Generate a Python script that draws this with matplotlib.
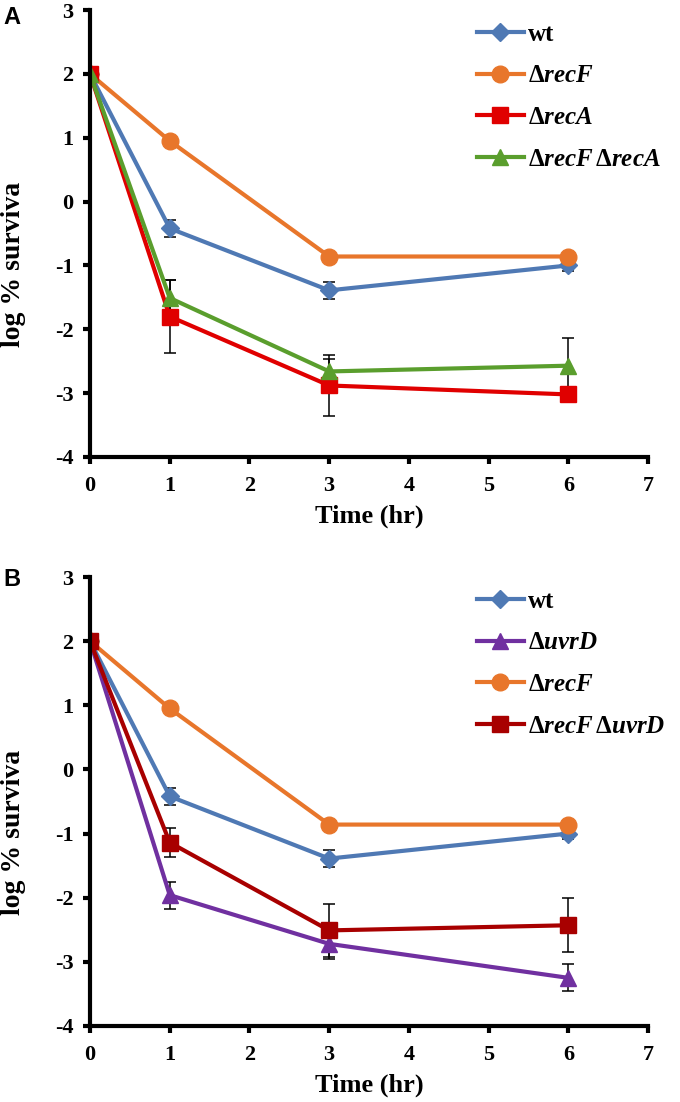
import matplotlib
matplotlib.use("Agg")
import matplotlib.pyplot as plt

plt.rcParams['font.family'] = ['Liberation Serif', 'DejaVu Serif']
plt.rcParams['font.weight'] = 'bold'
plt.rcParams['axes.unicode_minus'] = False
plt.rcParams['mathtext.fontset'] = 'custom'
plt.rcParams['mathtext.rm'] = 'Liberation Serif:bold'
plt.rcParams['mathtext.it'] = 'Liberation Serif:italic:bold'
plt.rcParams['mathtext.bf'] = 'Liberation Serif:bold'

time = [0, 1, 3, 6]

# panel A
wt = [2.0, -0.42, -1.39, -1.0]
wt_err = [0.0, 0.13, 0.13, 0.08]
recF = [2.0, 0.95, -0.86, -0.86]
recF_err = [0.0, 0.05, 0.05, 0.05]
recA = [2.0, -1.80, -2.88, -3.02]
recA_err = [0.0, 0.57, 0.48, 0.10]
recFrecA = [2.0, -1.51, -2.66, -2.57]
recFrecA_err = [0.0, 0.28, 0.20, 0.44]

# panel B
uvrD = [2.0, -1.96, -2.72, -3.25]
uvrD_err = [0.0, 0.21, 0.23, 0.21]
recFuvrD = [2.0, -1.14, -2.51, -2.43]
recFuvrD_err = [0.0, 0.23, 0.41, 0.42]

labels_A = ['wt', r'$\Delta\mathit{recF}$', r'$\Delta\mathit{recA}$',
            r'$\Delta\mathit{recF}\,\Delta\mathit{recA}$']
labels_B = ['wt', r'$\Delta\mathit{uvrD}$', r'$\Delta\mathit{recF}$',
            r'$\Delta\mathit{recF}\,\Delta\mathit{uvrD}$']

blue = '#4F79B4'
orange = '#E8762B'
red = '#E00000'
green = '#5A9E2D'
purple = '#7030A0'
darkred = '#A80000'

fig = plt.figure(figsize=(6.8, 11.02), dpi=100)
axA = fig.add_axes([0.1324, 0.5853, 0.8206, 0.4056])
axB = fig.add_axes([0.1324, 0.0690, 0.8206, 0.4074])


def series(ax, y, err, color, marker, ms):
    c = ax.errorbar(time, y, yerr=err, color=color, marker=marker, markersize=ms,
                    linewidth=3, ecolor='black', elinewidth=1.1, capsize=4,
                    capthick=1.1)
    return c[0]


hA = [series(axA, wt, wt_err, blue, 'D', 9),
      series(axA, recF, recF_err, orange, 'o', 12),
      series(axA, recA, recA_err, red, 's', 11),
      series(axA, recFrecA, recFrecA_err, green, '^', 12)]

hB = [series(axB, wt, wt_err, blue, 'D', 9),
      series(axB, uvrD, uvrD_err, purple, '^', 12),
      series(axB, recF, recF_err, orange, 'o', 12),
      series(axB, recFuvrD, recFuvrD_err, darkred, 's', 11)]

for ax, handles, labels, letter, ly in [(axA, hA, labels_A, 'A', 0.995),
                                        (axB, hB, labels_B, 'B', 0.485)]:
    ax.set_xlim(0, 7)
    ax.set_ylim(-4, 3)
    ax.set_xticks(range(0, 8))
    ax.set_yticks(range(-4, 4))
    ax.spines['top'].set_visible(False)
    ax.spines['right'].set_visible(False)
    ax.spines['left'].set_linewidth(3)
    ax.spines['bottom'].set_linewidth(3)
    ax.tick_params(direction='out', length=5, width=3, labelsize=16)
    ax.tick_params(axis='x', pad=9)
    ax.tick_params(axis='y', pad=7)
    for t in ax.get_xticklabels() + ax.get_yticklabels():
        t.set_fontweight('bold')
    ax.set_xlabel('Time (hr)', fontsize=19, fontweight='bold', labelpad=6)
    ax.set_ylabel('log % surviva', fontsize=20, fontweight='bold')
    ax.yaxis.label.set_verticalalignment('center')
    ax.yaxis.set_label_coords(-0.138, 0.43)
    ax.legend(handles=handles, labels=labels, loc='upper left',
              bbox_to_anchor=(0.694, 0.972), frameon=False, fontsize=18,
              handlelength=1.85, handletextpad=0.16, labelspacing=0.75,
              borderaxespad=0, borderpad=0)
    fig.text(0.005, ly, letter, fontsize=17, fontweight='bold',
             family='Liberation Sans', va='top', ha='left')

fig.savefig('out.png', dpi=100)
